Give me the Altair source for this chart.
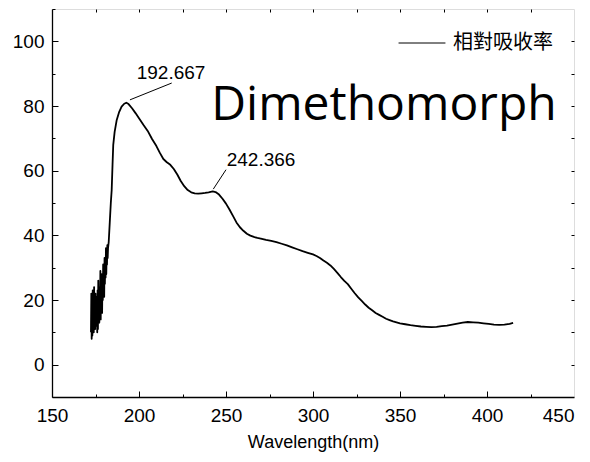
import altair as alt
import pandas as pd

# ---- spectrum ----
wavelength = [
    172.4, 172.6, 172.8, 173.0, 173.2, 173.4, 173.6, 173.8, 174.0, 174.2,
    174.4, 174.6, 174.8, 175.0, 175.2, 175.4, 175.6, 175.8, 176.0, 176.2,
    176.4, 176.6, 176.8, 177.0, 177.2, 177.4, 177.6, 177.8, 178.0, 178.2,
    178.4, 178.6, 178.8, 179.0, 179.2, 179.4, 179.6, 179.8, 180.0, 180.2,
    180.4, 180.6, 180.8, 181.0, 181.2, 181.4, 181.6, 181.8, 182.0, 182.2,
    182.6, 183.2, 183.8, 184.3, 184.8, 185.2, 186.0, 187.2, 188.5, 190.0,
    191.5, 192.7, 194.0, 196.0, 198.0, 200.0, 202.5, 205.0, 207.5, 210.0,
    212.0, 214.0, 216.0, 218.0, 220.0, 222.0, 224.0, 226.0, 228.0, 230.0,
    232.0, 234.0, 236.0, 238.0, 240.0, 242.4, 244.0, 246.0, 248.0, 250.0,
    252.0, 254.0, 256.0, 258.0, 260.0, 262.0, 264.0, 266.0, 268.0, 270.0,
    273.0, 276.0, 279.0, 282.0, 285.0, 288.0, 291.0, 294.0, 297.0, 300.0,
    302.0, 304.0, 306.0, 308.0, 310.0, 312.0, 314.0, 316.0, 318.0, 320.0,
    322.0, 324.0, 326.0, 328.0, 330.0, 332.0, 334.0, 336.0, 338.0, 340.0,
    342.0, 344.0, 346.0, 348.0, 350.0, 353.0, 356.0, 359.0, 362.0, 365.0,
    368.0, 371.0, 374.0, 377.0, 380.0, 383.0, 386.0, 389.0, 392.0, 395.0,
    398.0, 401.0, 404.0, 407.0, 410.0, 413.0, 415.0,
]
absorbance = [
    10, 22, 8, 19, 9, 23, 12, 21, 10, 24,
    13, 20, 11, 22, 14, 19, 12, 21, 10, 23,
    11, 26, 15, 22, 13, 24, 17, 29, 14, 25,
    18, 28, 16, 27, 20, 31, 22, 30, 21, 33,
    25, 32, 27, 36, 28, 34, 31, 37, 33, 36,
    38, 44, 50, 54, 62, 68, 72, 75.7, 78, 79.8,
    80.7, 81.0, 80.6, 79.3, 77.8, 76.2, 74.2, 72.3, 69.8, 67.6,
    65.5, 63.6, 62.6, 61.8, 60.5, 58.8, 56.8, 55.2, 54.0, 53.3,
    53.0, 52.9, 53.0, 53.1, 53.3, 53.6, 53.4, 52.6, 51.3, 49.8,
    48.0, 46.0, 44.0, 42.5, 41.4, 40.5, 39.9, 39.5, 39.2, 39.0,
    38.6, 38.3, 37.9, 37.4, 36.9, 36.3, 35.7, 35.1, 34.6, 34.1,
    33.6, 33.0, 32.2, 31.5, 30.7, 29.6, 28.4, 27.1, 25.9, 24.9,
    23.5, 22.1, 20.8, 19.7, 18.6, 17.6, 16.8, 16.0, 15.4, 14.8,
    14.2, 13.8, 13.4, 13.1, 12.8, 12.5, 12.2, 12.0, 11.8, 11.7,
    11.6, 11.7, 11.9, 12.1, 12.4, 12.7, 13.0, 13.2, 13.1, 13.0,
    12.8, 12.6, 12.4, 12.3, 12.4, 12.6, 12.9,
]
series_name = "相對吸收率"

# ---- axes ----
x_domain = [150, 450]
y_domain = [-10, 110]
x_labels = [150, 200, 250, 300, 350, 400, 450]
y_labels = [0, 20, 40, 60, 80, 100]
x_major = [200, 250, 300, 350, 400]
x_minor = [175, 225, 275, 325, 375, 425]
y_major = [0, 20, 40, 60, 80, 100]
y_minor = [-10, 10, 30, 50, 70, 90, 110]
x_top = [175, 200, 225, 250, 275, 300, 325, 350, 375, 400, 425]
y_right = [0, 10, 20, 30, 40, 50, 60, 70, 80, 90, 100]

# ---- annotations ----
peak_text = ["192.667", "242.366"]
peak_text_x = [198.7, 250.4]
peak_text_y = [88.4, 61.3]
leader_x = [194.8, 242.7]
leader_y = [81.9, 54.3]
leader_x2 = [218.8, 250.0]
leader_y2 = [87.1, 60.3]

big_title = ["Dimethomorph"]
big_title_x = [241.5]
big_title_y = [75.6]

df = pd.DataFrame({"w": wavelength, "a": absorbance, "series": series_name})
ann = pd.DataFrame({"t": peak_text, "tx": peak_text_x, "ty": peak_text_y,
                    "x": leader_x, "y": leader_y, "x2": leader_x2, "y2": leader_y2})
big = pd.DataFrame({"t": big_title, "x": big_title_x, "y": big_title_y})

FONT = "Liberation Sans"
xs = alt.Scale(domain=x_domain, nice=False, zero=False)
ys = alt.Scale(domain=y_domain, nice=False, zero=False)

main_x_axis = alt.Axis(values=x_labels, ticks=False, domain=True, domainColor="black",
                       domainWidth=1.3, grid=False, labelFont=FONT, labelFontSize=19,
                       labelColor="black", labelPadding=9, labelFlush=False,
                       labelAlign={"condition": {"test": "datum.value === 450", "value": "right"},
                                   "value": "center"},
                       title="Wavelength(nm)", titleFont=FONT, titleFontSize=18,
                       titleFontWeight="normal", titleColor="black", titlePadding=8)
main_y_axis = alt.Axis(values=y_labels, ticks=False, domain=True, domainColor="black",
                       domainWidth=1.3, grid=False, labelFont=FONT, labelFontSize=19,
                       labelColor="black", labelPadding=8, labelFlush=False, title=None)

line = alt.Chart(df).mark_line(strokeWidth=1.8, strokeJoin="round").encode(
    x=alt.X("w:Q", scale=xs, axis=main_x_axis),
    y=alt.Y("a:Q", scale=ys, axis=main_y_axis),
    color=alt.Color("series:N", scale=alt.Scale(range=["black"]),
                    legend=alt.Legend(orient="none", legendX=346, legendY=10, title=None,
                                      symbolType="stroke", symbolSize=2200,
                                      symbolStrokeWidth=1, labelFont="Noto Sans CJK TC",
                                      labelFontSize=20, labelColor="black",
                                      labelOffset=7, padding=0)),
)

leaders = alt.Chart(ann).mark_rule(color="black", strokeWidth=1).encode(
    x=alt.X("x:Q", scale=xs, axis=main_x_axis), y=alt.Y("y:Q", scale=ys, axis=main_y_axis),
    x2="x2:Q", y2="y2:Q")
labels = alt.Chart(ann).mark_text(font=FONT, fontSize=19, align="left",
                                   baseline="alphabetic", color="black").encode(
    x=alt.X("tx:Q", scale=xs, axis=main_x_axis), y=alt.Y("ty:Q", scale=ys, axis=main_y_axis),
    text="t:N")
title_txt = alt.Chart(big).mark_text(font="Open Sans", fontSize=48, align="left",
                                      baseline="alphabetic", color="black").encode(
    x=alt.X("x:Q", scale=xs, axis=main_x_axis), y=alt.Y("y:Q", scale=ys, axis=main_y_axis),
    text="t:N")

main = alt.layer(line, leaders, labels, title_txt)


def tick_layer(xorient, xvals, xsize, yorient, yvals, ysize):
    xa = alt.Axis(orient=xorient, offset=-xsize, tickSize=xsize, values=xvals, labels=False,
                  domain=False, grid=False, title=None, tickColor="black", tickWidth=1)
    ya = alt.Axis(orient=yorient, offset=-ysize, tickSize=ysize, values=yvals, labels=False,
                  domain=False, grid=False, title=None, tickColor="black", tickWidth=1)
    return alt.Chart(df).mark_point(opacity=0).encode(
        x=alt.X("w:Q", scale=xs, axis=xa), y=alt.Y("a:Q", scale=ys, axis=ya))


chart = alt.layer(
    main,
    tick_layer("bottom", x_major, 6, "left", y_major, 6),
    tick_layer("bottom", x_minor, 3, "left", y_minor, 3),
    tick_layer("top", x_top, 3, "right", y_right, 3),
).resolve_scale(x="independent", y="independent").properties(
    width=522, height=388, autosize="none",
    padding={"left": 44, "top": 1, "right": 8, "bottom": 57},
).configure_view(stroke="black", strokeWidth=1).configure(background="white")

chart.save("out.html", embed_options={"renderer": "svg", "actions": False})
